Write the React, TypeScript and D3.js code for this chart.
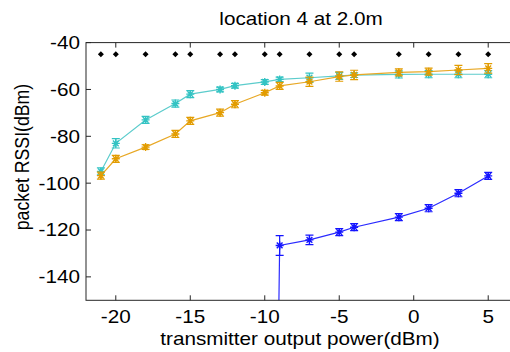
import React from "react";
import * as d3 from "d3";

// Transmitter output power settings (dBm)
const powers = [-21, -20, -18, -16, -15, -13, -12, -10, -9, -7, -5, -4, -1, 1, 3, 5];

// Reference level marked on every power setting
const refLevel = [-45, -45, -45, -45, -45, -45, -45, -45, -45, -45, -45, -45, -45, -45, -45, -45];

// Mean packet RSSI (dBm) and error half-widths for each receiver
const cyanRssi = [-95, -83, -73, -66, -62, -60, -58.4, -56.8, -55.7, -55, -54.2, -53.9, -53.6, -53.5, -53.5, -53.5];
const cyanErr = [1.5, 2, 1.5, 1.5, 1.5, 1, 1, 1, 1, 2, 1.5, 1, 1.5, 1.5, 1.5, 1.5];

const orangeRssi = [-96.8, -89.6, -84.6, -79, -73.4, -69.9, -66.3, -61.4, -58.5, -56.7, -54.5, -53.8, -52.7, -52.4, -51.7, -51];
const orangeErr = [1.5, 1.5, 1, 1.5, 1.5, 1.5, 1.5, 1, 1.5, 2, 2, 2, 1.5, 1.5, 2, 2];

// Blue receiver: nothing heard below -10 dBm, a deep dropout at -10 dBm
const blueRssi: (number | null)[] = [null, null, null, null, null, null, null, -600, -126.6, -124.2, -120.9, -118.8, -114.5, -110.7, -104.3, -96.9];
const blueErr: (number | null)[] = [null, null, null, null, null, null, null, 0, 4.2, 2, 1.5, 1.5, 1.5, 1.5, 1.5, 1.5];

const xTicks = [-20, -15, -10, -5, 0, 5];
const yTicks = [-140, -120, -100, -80, -60, -40];

const W = 510;
const H = 352;
const plot = { left: 86, right: 518, top: 42.6, bottom: 300.3 };
const font = "Arial, 'Liberation Sans', sans-serif";
const axisColor = "#262626";
const fs = 17.7;
const stretch = 1.17; // wide glyph aspect of the figure's text

const x = d3.scaleLinear().domain([-22, 7]).range([plot.left, plot.right]);
const y = d3.scaleLinear().domain([-150, -40]).range([plot.bottom, plot.top]);

type Pt = { x: number; v: number; e: number };

function series(vals: (number | null)[], errs: (number | null)[]): Pt[] {
  const out: Pt[] = [];
  vals.forEach((v, i) => {
    if (v !== null) out.push({ x: powers[i], v, e: (errs[i] ?? 0) as number });
  });
  return out;
}

function asterisk(cx: number, cy: number, r: number) {
  const d = r * 0.72;
  return `M${cx - r},${cy}L${cx + r},${cy}M${cx},${cy - r}L${cx},${cy + r}` +
    `M${cx - d},${cy - d}L${cx + d},${cy + d}M${cx - d},${cy + d}L${cx + d},${cy - d}`;
}

function Series({ pts, color, lineColor }: { pts: Pt[]; color: string; lineColor: string }) {
  const line = d3.line<Pt>().x((p) => x(p.x)).y((p) => y(p.v));
  const cap = 4;
  return (
    <g>
      <path d={line(pts) ?? ""} fill="none" stroke={lineColor} strokeWidth={1.2} />
      {pts.filter((p) => p.v > -150).map((p, i) => {
        const cx = x(p.x);
        const y1 = y(p.v + p.e);
        const y2 = y(p.v - p.e);
        return (
          <g key={i} stroke={color} fill="none">
            {p.e > 0 && (
              <path
                d={`M${cx},${y1}L${cx},${y2}M${cx - cap},${y1}L${cx + cap},${y1}M${cx - cap},${y2}L${cx + cap},${y2}`}
                strokeWidth={1.2}
              />
            )}
            <path d={asterisk(cx, y(p.v), 4)} strokeWidth={1.4} />
          </g>
        );
      })}
    </g>
  );
}

// Horizontally widened text anchored at (tx, ty)
function WideText({ tx, ty, anchor, children, rotate = 0, dy }: {
  tx: number; ty: number; anchor: "start" | "middle" | "end"; children: React.ReactNode; rotate?: number; dy?: string;
}) {
  return (
    <text transform={`translate(${tx},${ty}) scale(${stretch},1) rotate(${rotate})`}
      textAnchor={anchor} dy={dy} fontSize={fs} fill="#000">{children}</text>
  );
}

export default function App() {
  const cyan = series(cyanRssi, cyanErr);
  const orange = series(orangeRssi, orangeErr);
  const blue = series(blueRssi, blueErr);
  const dm = 3;
  const diamond = `M0,${-dm}L${dm},0L0,${dm}L${-dm},0Z`;
  const tickLen = 5;

  return (
    <svg width={W} height={H} style={{ position: "absolute", left: 0, top: 0, background: "#fff" }} fontFamily={font}>
      <defs>
        <clipPath id="plotArea">
          <rect x={plot.left} y={plot.top} width={plot.right - plot.left} height={plot.bottom - plot.top} />
        </clipPath>
      </defs>
      <rect x={0} y={0} width={W} height={H} fill="#fff" />

      <g clipPath="url(#plotArea)">
        <Series pts={blue} color="#1414ff" lineColor="#2a2aff" />
        <Series pts={cyan} color="#33c3c3" lineColor="#5ccccc" />
        <Series pts={orange} color="#e29c00" lineColor="#e8a825" />
        {powers.map((p, i) => (
          <path key={i} d={diamond} transform={`translate(${x(p)},${y(refLevel[i])})`} fill="#000" />
        ))}
      </g>

      {/* axes box with inward ticks */}
      <rect x={plot.left} y={plot.top} width={plot.right - plot.left} height={plot.bottom - plot.top}
        fill="none" stroke={axisColor} strokeWidth={1} />
      {xTicks.map((t) => (
        <g key={t} stroke={axisColor}>
          <line x1={x(t)} x2={x(t)} y1={plot.bottom} y2={plot.bottom - tickLen} />
          <line x1={x(t)} x2={x(t)} y1={plot.top} y2={plot.top + tickLen} />
        </g>
      ))}
      {yTicks.map((t) => (
        <g key={t} stroke={axisColor}>
          <line x1={plot.left} x2={plot.left + tickLen} y1={y(t)} y2={y(t)} />
          <line x1={plot.right} x2={plot.right - tickLen} y1={y(t)} y2={y(t)} />
        </g>
      ))}

      {xTicks.map((t) => (
        <WideText key={t} tx={x(t)} ty={323} anchor="middle">{t}</WideText>
      ))}
      {yTicks.map((t) => (
        <WideText key={t} tx={80} ty={y(t)} anchor="end" dy="0.36em">{t}</WideText>
      ))}

      <WideText tx={301} ty={25} anchor="middle">location 4 at 2.0m</WideText>
      <WideText tx={300} ty={345} anchor="middle">transmitter output power(dBm)</WideText>
      <WideText tx={29} ty={157} anchor="middle" rotate={-90}>packet RSSI(dBm)</WideText>
    </svg>
  );
}
